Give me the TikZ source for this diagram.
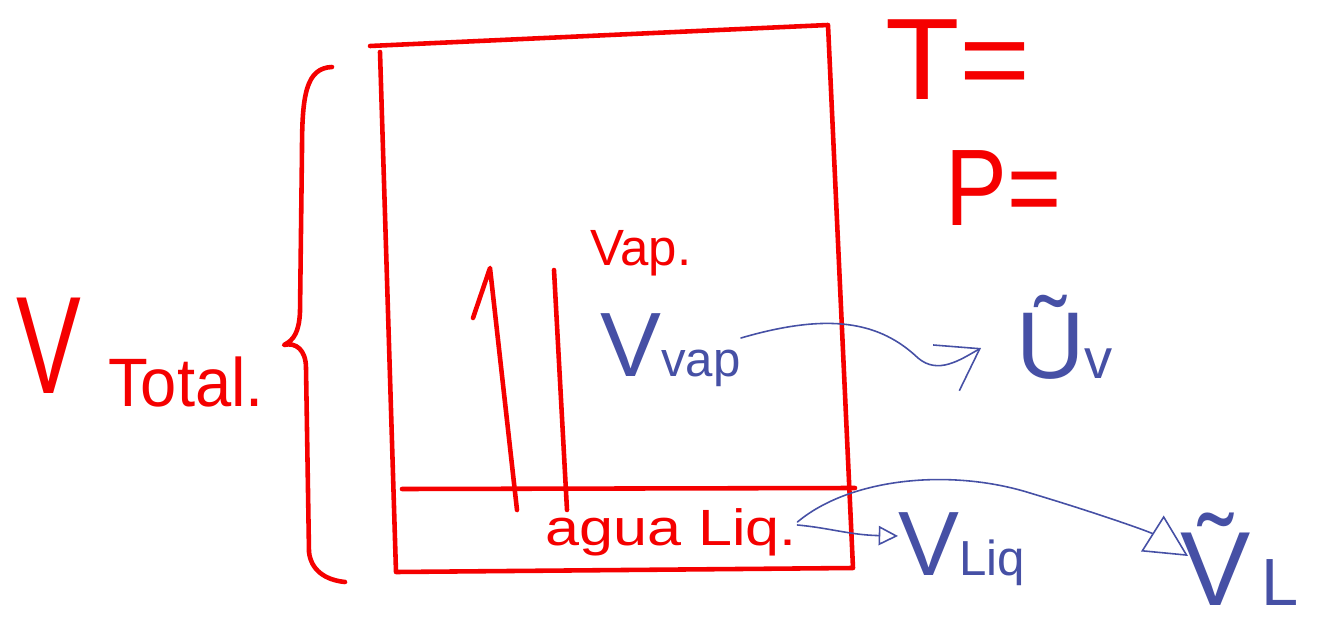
\documentclass[tikz,border=0pt]{standalone}
\usepackage{fontspec}
\setmainfont{Liberation Sans}
\usetikzlibrary{arrows.meta}
\definecolor{inkred}{RGB}{245,0,0}
\definecolor{inkblue}{RGB}{70,80,165}
\newcommand\fsz[1]{\fontsize{#1}{#1}\selectfont}
\begin{document}
\begin{tikzpicture}[x=0.02cm,y=-0.02cm,
  redpen/.style={draw=inkred,line width=2.6pt,line cap=round,line join=round},
  bluepen/.style={draw=inkblue,line width=0.9pt,line cap=round,line join=round},
  redlabel/.style={text=inkred,inner sep=0pt,anchor=base west},
  bluelabel/.style={text=inkblue,inner sep=0pt,anchor=base west},
  barbhead/.style={-{Straight Barb[length=22pt,width=30pt]}},
  openhead/.style={-{Triangle[open,length=11pt,width=11pt]}},
  widehead/.style={-{Triangle[open,length=24pt,width=24pt]}}]

\fill[white] (0,0) rectangle (1343,625);
\useasboundingbox (0,0) rectangle (1343,625);

% vessel outline
\coordinate (tl) at (370,46);
\coordinate (tr) at (828,25);
\coordinate (br) at (853,568);
\coordinate (bl) at (396,572);
\coordinate (lt) at (380,52);
\draw[redpen] (tl) -- (tr) -- (br) -- (bl) -- (lt);

% liquid surface
\coordinate (il) at (402,489);
\coordinate (ir) at (855,488);
\draw[redpen] (il) -- (ir);

% rising vapour: arrow with one barb and a parallel stroke
\coordinate (a0) at (517,510);
\coordinate (a1) at (490,268);
\coordinate (a2) at (473,318);
\draw[redpen] (a0) -- (a1) -- (a2);
\coordinate (b0) at (567,510);
\coordinate (b1) at (554,270);
\draw[redpen] (b0) -- (b1);

% brace spanning the whole volume
\coordinate (brtop) at (332,67);
\coordinate (brtip) at (284,345);
\coordinate (brbot) at (345,582);
\draw[redpen] (brtop) .. controls (306,68) and (302,95) .. (302,150)
  -- (300,312) .. controls (299,332) and (294,340) .. (brtip)
  .. controls (296,342) and (306,350) .. (306,368)
  -- (309,552) .. controls (311,570) and (325,580) .. (brbot);

% red labels
\node[redlabel,xscale=0.7] (vtot) at (16,393) {\fsz{79}V};
\node[redlabel,xscale=0.95] (total) at (108,406) {\fsz{39}Total.};
\node[redlabel,xscale=1.05] (temp) at (885,100) {\fsz{66}T=};
\node[redlabel,xscale=0.85] (pres) at (945,225) {\fsz{62}P=};
\node[redlabel] (vap) at (590,265) {\fsz{29}Vap.};
\node[redlabel,xscale=1.2] (agua) at (545,545) {\fsz{29}agua Liq.};

% blue labels
\node[bluelabel] (vvap) at (600,376) {\fsz{52}V\fsz{28}vap};
\node[bluelabel] (uv) at (1016,378) {\fsz{54}\~{U}\fsz{32}v};
\node[bluelabel] (vliq) at (898,575) {\fsz{52}V\fsz{28}Liq};
\node[bluelabel] (vl) at (1180,605) {\fsz{60}\~{V}\fsz{38}\,L};

% blue arrows
\draw[bluepen,barbhead] (vvap.east |- 0,338) .. controls (830,312) and (880,322) .. (918,358)
  .. controls (938,375) and (960,360) .. (981,348);
\draw[bluepen,openhead] (agua.east |- 0,525) .. controls (830,528) and (850,535) .. (vliq.west |- 0,536);
\draw[bluepen,widehead] (agua.east |- 0,522) .. controls (850,478) and (950,468) .. (1030,493)
  .. controls (1100,514) and (1150,532) .. (1188,556);
\end{tikzpicture}
\end{document}
